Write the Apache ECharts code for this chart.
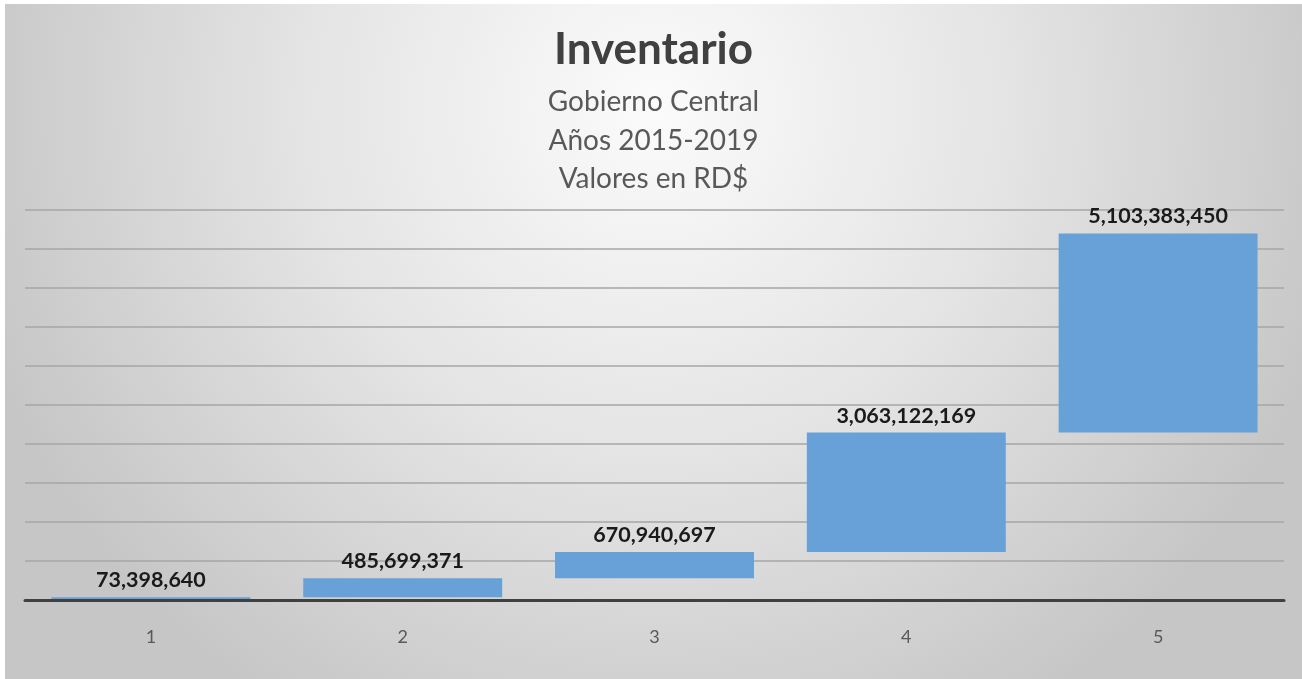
<!DOCTYPE html>
<html>
<head>
<meta charset="utf-8">
<script src="https://cdn.jsdelivr.net/npm/echarts@6/dist/echarts.min.js"></script>
<style>
  html, body { margin: 0; padding: 0; background: #ffffff; }
  #chart { position: absolute; left: 5px; top: 4px; width: 1297px; height: 675px; }
</style>
</head>
<body>
<div id="chart"></div>
<script>
const categories = ['1', '2', '3', '4', '5'];
const values = [73398640, 485699371, 670940697, 3063122169, 5103383450];
const axisMin = 0;
const axisMax = 10000000000;
const axisInterval = 1000000000;
const titleText = 'Inventario';
const subtitleLines = ['Gobierno Central', 'Años 2015-2019', 'Valores en RD$'];

// waterfall base: running sum of previous values
const bases = [];
let run = 0;
for (let i = 0; i < values.length; i++) { bases.push(run); run += values[i]; }

const fmt = v => v.toString().replace(/\B(?=(\d{3})+(?!\d))/g, ',');

const chart = echarts.init(document.getElementById('chart'));
chart.setOption({
  backgroundColor: {
    type: 'radial', x: 0.5, y: 0.15, r: 1.05,
    colorStops: [
      { offset: 0, color: '#fbfbfb' },
      { offset: 0.5, color: '#e4e4e4' },
      { offset: 1, color: '#c6c6c6' }
    ]
  },
  textStyle: { fontFamily: 'Lato' },
  title: [
    {
      text: titleText, left: 'center', top: 19,
      textStyle: { fontFamily: 'Lato', fontWeight: 'bold', fontSize: 44, color: '#404040' }
    },
    {
      text: subtitleLines.join('\n'), left: 'center', top: 74,
      textStyle: { fontFamily: 'Lato', fontWeight: 'normal', fontSize: 28, lineHeight: 38.5, color: '#595959' }
    }
  ],
  grid: { left: 20, right: 18, top: 206, bottom: 79 },
  xAxis: {
    type: 'category',
    data: categories,
    z: 5,
    axisLine: { show: true, lineStyle: { color: '#404040', width: 3 } },
    axisTick: { show: false },
    axisLabel: { color: '#595959', fontSize: 18, margin: 28, fontFamily: 'Lato' }
  },
  yAxis: {
    type: 'value',
    min: axisMin, max: axisMax, interval: axisInterval,
    axisLine: { show: false },
    axisTick: { show: false },
    axisLabel: { show: false },
    splitLine: { show: true, lineStyle: { color: '#a6a6a6', width: 1.5 } }
  },
  series: [
    {
      type: 'bar', stack: 'w', data: bases,
      itemStyle: { color: 'transparent' },
      barWidth: '79%',
      silent: true, z: 1
    },
    {
      type: 'bar', stack: 'w', data: values,
      barWidth: '79%',
      itemStyle: { color: '#67a1d7' },
      z: 1,
      label: {
        show: true, position: 'top', distance: 6,
        formatter: p => fmt(p.value),
        fontFamily: 'Lato', fontWeight: 'bold', fontSize: 21.5, color: '#1a1a1a'
      }
    }
  ]
});
</script>
</body>
</html>
